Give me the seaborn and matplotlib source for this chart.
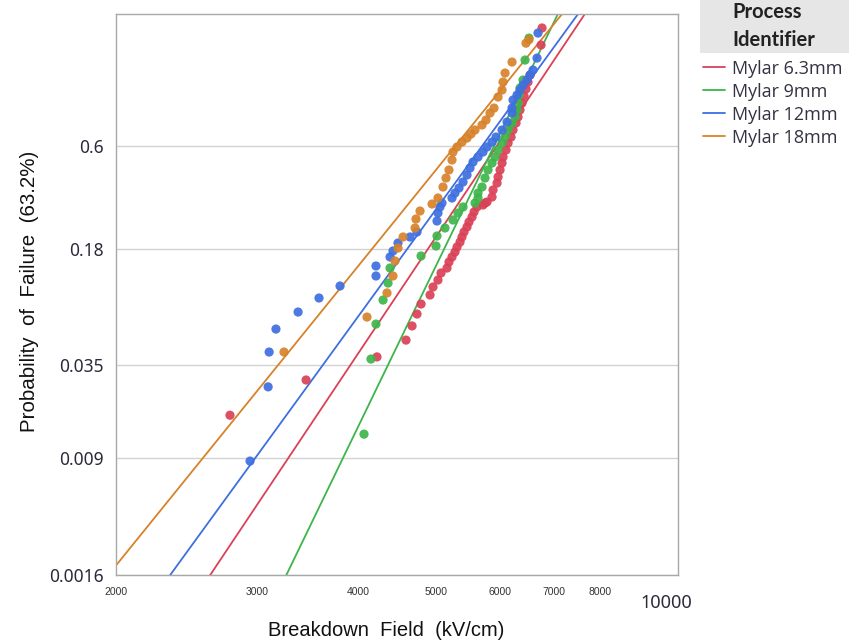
import numpy as np
import pandas as pd
import matplotlib
matplotlib.use("Agg")
import matplotlib.pyplot as plt
import seaborn as sns
from matplotlib.patches import Rectangle
from matplotlib.ticker import NullLocator, FixedLocator
from matplotlib.transforms import ScaledTranslation

# ---------------- data ----------------
processes = ["Mylar 6.3mm", "Mylar 9mm", "Mylar 12mm", "Mylar 18mm"]
colors = ["#DA4157", "#3DB54A", "#3E6FE0", "#D7822A"]

red_field = [2772, 3447, 4223, 4589, 4669, 4736, 4791, 4916, 4958, 5029,
             5073, 5161, 5190, 5235, 5280, 5311, 5357, 5387, 5418, 5465,
             5496, 5544, 5576, 5624, 5721, 5754, 5787, 5871, 5888, 5956,
             5973, 6007, 6042, 6059, 6111, 6147, 6200, 6235, 6289, 6325,
             6361, 6398, 6434, 6471, 6508, 6546, 6756, 6775]
red_prob = [0.0169, 0.0283, 0.0396, 0.0505, 0.0619, 0.0734, 0.0846, 0.0961, 0.1075, 0.1185,
            0.1306, 0.1398, 0.1518, 0.1625, 0.1738, 0.1858, 0.1985, 0.2121, 0.2264, 0.2415,
            0.2574, 0.2742, 0.2919, 0.3104, 0.318, 0.3258, 0.3298, 0.3501, 0.3801, 0.4113,
            0.4397, 0.4742, 0.5096, 0.5410, 0.5786, 0.6163, 0.6490, 0.6871, 0.7242, 0.7553,
            0.7903, 0.8230, 0.8536, 0.8814, 0.9059, 0.9274, 0.9832, 0.9948]

green_field = [4069, 4151, 4211, 4297, 4359, 4384, 4791, 5001, 5015, 5131,
               5250, 5326, 5403, 5592, 5640, 5640, 5705, 5754, 5804, 5871,
               5922, 5973, 6042, 6094, 6147, 6217, 6271, 6307, 6325, 6343,
               6361, 6416, 6453, 6527]
green_prob = [0.0128, 0.0384, 0.0636, 0.0895, 0.1136, 0.1398, 0.1647, 0.1884, 0.2149, 0.2384,
              0.2641, 0.2882, 0.3104, 0.3258, 0.3459, 0.3669, 0.3932, 0.4348, 0.4742, 0.5096,
              0.5410, 0.5786, 0.6163, 0.6490, 0.6871, 0.7242, 0.7553, 0.7903, 0.8230, 0.8578,
              0.885, 0.9124, 0.9621, 0.9892]

blue_field = [2936, 3092, 3101, 3162, 3369, 3577, 3799, 4211, 4211, 4384,
              4421, 4485, 4642, 4736, 5015, 5029, 5058, 5087, 5235, 5280,
              5341, 5403, 5465, 5512, 5560, 5640, 5721, 5787, 5871, 5939,
              6042, 6129, 6217, 6217, 6235, 6307, 6361, 6416, 6490, 6546,
              6602, 6678, 6697]
blue_prob = [0.00861, 0.0256, 0.0425, 0.0592, 0.0755, 0.0921, 0.1090, 0.1253, 0.1438, 0.1625,
             0.1762, 0.1959, 0.2121, 0.2264, 0.2607, 0.2882, 0.3104, 0.3258, 0.3459, 0.3669,
             0.3887, 0.4160, 0.4495, 0.4840, 0.5148, 0.5410, 0.5677, 0.5947, 0.6218, 0.6490,
             0.6871, 0.7294, 0.7754, 0.80, 0.8366, 0.8578, 0.8776, 0.8958, 0.9124, 0.9274,
             0.9406, 0.9656, 0.9924]

orange_field = [3236, 4104, 4346, 4421, 4447, 4485, 4550, 4709, 4722, 4777,
                4944, 5029, 5102, 5146, 5190, 5235, 5250, 5311, 5387, 5465,
                5528, 5592, 5705, 5771, 5837, 5905, 5973, 6042, 6059, 6094,
                6217, 6471, 6527]
orange_prob = [0.0425, 0.0703, 0.0989, 0.1253, 0.1539, 0.1833, 0.2121, 0.2384, 0.2673, 0.2955,
               0.3218, 0.3459, 0.3932, 0.4348, 0.4742, 0.5254, 0.5677, 0.5947, 0.6218, 0.6435,
               0.6655, 0.6871, 0.7138, 0.7400, 0.7754, 0.7997, 0.8493, 0.8776, 0.9059, 0.9328,
               0.9583, 0.985, 0.988]

# Weibull fit lines (shape beta, scale eta in kV/cm)
weibull_shape = [7.74, 10.68, 7.11, 6.39]
weibull_scale = [6017, 5952, 5776, 5357]

y_ticks = [0.0016, 0.009, 0.035, 0.18, 0.6]
y_tick_labels = ["0.0016", "0.009", "0.035", "0.18", "0.6"]
x_ticks = [2000, 3000, 4000, 5000, 6000, 7000, 8000, 9000, 10000]
x_tick_labels = ["2000", "3000", "4000", "5000", "6000", "7000", "8000", "", "10000"]

fields = [red_field, green_field, blue_field, orange_field]
probs = [red_prob, green_prob, blue_prob, orange_prob]

pts = pd.concat([pd.DataFrame({"Field": f, "Prob": p, "Process": name})
                 for f, p, name in zip(fields, probs, processes)], ignore_index=True)

grid = np.geomspace(1900, 8600, 500)
lines = pd.concat([pd.DataFrame({"Field": grid,
                                 "Prob": 1 - np.exp(-(grid / eta) ** beta),
                                 "Process": name})
                   for beta, eta, name in zip(weibull_shape, weibull_scale, processes)],
                  ignore_index=True)

# ---------------- style ----------------
sns.set_style("white")
plt.rcParams["font.family"] = ["Liberation Sans", "DejaVu Sans"]

fig = plt.figure(figsize=(8.59, 6.43), dpi=100)
L, R, T, B = 116, 678, 14, 575
ax = fig.add_axes([L / 859, 1 - B / 643, (R - L) / 859, (B - T) / 643])


def fwd(p):
    p = np.clip(np.asarray(p, dtype=float), 1e-12, 1 - 1e-15)
    return np.log(-np.log1p(-p))


def inv(y):
    return -np.expm1(-np.exp(np.asarray(y, dtype=float)))


sns.lineplot(data=lines, x="Field", y="Prob", hue="Process", hue_order=processes,
             palette=colors, sort=False, estimator=None, linewidth=1.3, ax=ax, zorder=2)
sns.scatterplot(data=pts, x="Field", y="Prob", hue="Process", hue_order=processes,
                palette=colors, s=44, linewidth=0, alpha=0.92, legend=False, ax=ax, zorder=3)

ax.set_xscale("log")
ax.set_yscale("function", functions=(fwd, inv))
ax.set_xlim(2000, 10000)
ax.set_ylim(0.0016, 0.99845)

ax.xaxis.set_major_locator(FixedLocator(x_ticks))
ax.xaxis.set_minor_locator(NullLocator())
ax.set_xticklabels(x_tick_labels)
ax.yaxis.set_major_locator(FixedLocator(y_ticks))
ax.yaxis.set_minor_locator(NullLocator())
ax.set_yticklabels(y_tick_labels)

ax.tick_params(axis="x", length=5, width=1, color="#a0a0a0", pad=3.6)
ax.tick_params(axis="y", length=7, width=1, color="#a0a0a0", pad=1.5)

for lbl in ax.get_xticklabels():
    lbl.set_fontsize(7.5)
    lbl.set_color("#333333")
last = ax.get_xticklabels()[-1]
last.set_fontsize(13)
last.set_family(["Noto Sans", "DejaVu Sans"])
last.set_color("#2a2a3a")
last.set_transform(last.get_transform() + ScaledTranslation(-12 / 100, -7 / 100, fig.dpi_scale_trans))
for lbl in ax.get_yticklabels():
    lbl.set_fontsize(12.5)
    lbl.set_color("#2a2a3a")
    lbl.set_family(["Noto Sans", "DejaVu Sans"])

ax.grid(False)
ax.yaxis.grid(True, color="#d2d2d2", linewidth=1)
for s in ax.spines.values():
    s.set_visible(True)
    s.set_color("#a8a8a8")
    s.set_linewidth(1)

ax.set_xlabel("")
ax.set_ylabel("")
fig.text(386 / 859, 1 - 630 / 643, "Breakdown  Field  (kV/cm)", ha="center", va="center",
         fontsize=14.5, color="#111111")
fig.text(30 / 859, 1 - 291 / 643, "Probability  of  Failure  (63.2%)", ha="center", va="center",
         rotation=90, fontsize=14.8, color="#111111")

# legend
handles, labels = ax.get_legend_handles_labels()
leg = ax.get_legend()
if leg is not None:
    leg.remove()
fig.patches.append(Rectangle((700 / 859, 1 - 53 / 643), 149 / 859, 53 / 643,
                             transform=fig.transFigure, facecolor="#e6e6e6",
                             edgecolor="none", zorder=0))
fig.text(732 / 859, 1 - 18 / 643, "Process", ha="left", va="baseline", fontsize=14.5,
         fontweight="bold", family=["Lato", "DejaVu Sans"], color="#222222")
fig.text(732 / 859, 1 - 46 / 643, "Identifier", ha="left", va="baseline", fontsize=14.5,
         fontweight="bold", family=["Lato", "DejaVu Sans"], color="#222222")
fig.legend(handles[:4], labels[:4], loc="upper left", bbox_to_anchor=(703 / 859, 1 - 59.5 / 643),
           frameon=False, borderpad=0, borderaxespad=0, handlelength=1.2, handletextpad=0.4,
           labelspacing=0.28, prop={"family": ["Open Sans", "DejaVu Sans"], "size": 13},
           labelcolor="#333344")

fig.savefig("out.png", dpi=100)
